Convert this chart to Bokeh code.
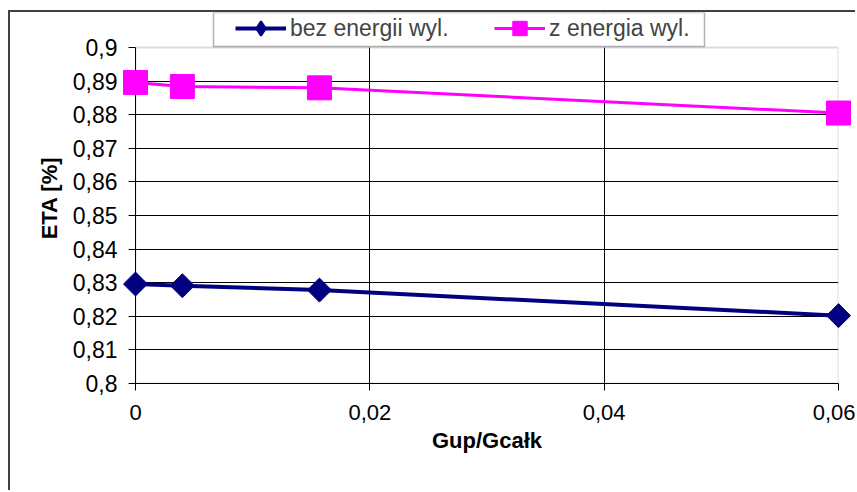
import numpy as np
from bokeh.plotting import figure
from bokeh.models import Range1d, FixedTicker, BoxAnnotation, Legend, LegendItem
from bokeh.embed import file_html
from bokeh.resources import INLINE

# ---- data ----
x_vals = [0.0, 0.004, 0.0157, 0.06]
eta_bez = [0.8296, 0.8291, 0.8278, 0.8202]
eta_z = [0.8896, 0.8884, 0.8880, 0.8805]

series_labels = ["bez energii wyl.", "z energia wyl."]

x_ticks = [0.0, 0.02, 0.04, 0.06]
x_tick_labels = ["0", "0,02", "0,04", "0,06"]
y_ticks = [0.8, 0.81, 0.82, 0.83, 0.84, 0.85, 0.86, 0.87, 0.88, 0.89, 0.9]
y_tick_labels = ["0,8", "0,81", "0,82", "0,83", "0,84", "0,85", "0,86",
                 "0,87", "0,88", "0,89", "0,9"]

x_title = "Gup/Gcałk"
y_title = "ETA [%]"

FONT = "Liberation Sans"

# layout (pixels)
CANVAS_W, CANVAS_H = 847, 480
FRAME_L, FRAME_R, FRAME_B = 125, 19, 109
PLOT_AREA_H = 336          # pixel height of the 0.8..0.9 plot area
frame_h = CANVAS_H - FRAME_B
y0, y1 = y_ticks[0], y_ticks[-1]
y_top = y0 + (y1 - y0) * frame_h / PLOT_AREA_H   # extra room above for legend

p = figure(width=CANVAS_W, height=CANVAS_H, output_backend="svg", toolbar_location=None,
           x_range=Range1d(x_ticks[0], x_ticks[-1]), y_range=Range1d(y0, y_top),
           min_border_left=FRAME_L, min_border_right=FRAME_R,
           min_border_top=0, min_border_bottom=FRAME_B)
p.margin = (10, 0, 0, 8)
p.styles = {"border-left": "2px solid #404040", "border-top": "2px solid #404040"}
p.background_fill_color = "white"
p.border_fill_color = "white"
p.outline_line_color = None

# axes
for ax in (p.xaxis[0], p.yaxis[0]):
    ax.axis_line_color = "black"
    ax.axis_line_width = 1
    ax.major_tick_line_color = "black"
    ax.major_tick_out = 7
    ax.major_tick_in = 0
    ax.minor_tick_out = 0
    ax.minor_tick_in = 0
    ax.major_label_text_font = FONT
    ax.major_label_text_color = "black"
    ax.axis_label_text_font = FONT
    ax.axis_label_text_font_style = "bold"
    ax.axis_label_text_font_size = "22px"
    ax.axis_label_text_color = "black"

p.xaxis.ticker = FixedTicker(ticks=x_ticks)
p.xaxis.major_label_overrides = dict(zip(x_ticks, x_tick_labels))
p.xaxis.major_label_text_font_size = "22px"
p.xaxis.major_label_standoff = 14
p.xaxis.axis_label = x_title
p.xaxis.axis_label_standoff = 5

p.yaxis.ticker = FixedTicker(ticks=y_ticks)
p.yaxis.bounds = (y0, y1)
p.yaxis.major_label_overrides = dict(zip(y_ticks, y_tick_labels))
p.yaxis.major_label_text_font_size = "23px"
p.yaxis.major_label_standoff = 11
p.yaxis.axis_label = y_title
p.yaxis.axis_label_standoff = 8

# grids
p.xgrid.ticker = FixedTicker(ticks=x_ticks[1:-1])
p.ygrid.ticker = FixedTicker(ticks=y_ticks[1:-1])
p.xgrid.grid_line_color = "black"
p.ygrid.grid_line_color = "black"

# white cover above the plot area (hides grid above 0.9)
cover = BoxAnnotation(bottom=y1, fill_color="white", fill_alpha=1,
                      line_alpha=0, level="underlay")
p.add_layout(cover)
# plot area outline (grey)
area = BoxAnnotation(left=x_ticks[0], right=x_ticks[-1], bottom=y0, top=y1,
                     fill_alpha=0, line_color="#8c8c8c", line_width=2,
                     level="underlay")
p.add_layout(area)

NAVY, MAGENTA = "#000080", "#FF00FF"

# series
l1 = p.line(x_vals, eta_bez, line_color=NAVY, line_width=4)
l2 = p.line(x_vals, eta_z, line_color=MAGENTA, line_width=3)
# diamond used for the legend (hidden under the rotated squares in the plot)
s1_leg = p.scatter(x_vals, eta_bez, marker="diamond", size=15,
                   fill_color=NAVY, line_color=NAVY, line_width=2)
s1 = p.scatter(x_vals, eta_bez, marker="square", angle=np.pi / 4, size=17,
               fill_color=NAVY, line_color=NAVY, level="overlay")
s2 = p.scatter(x_vals, eta_z, marker="square", size=24,
               fill_color=MAGENTA, line_color=MAGENTA, level="overlay")

# legend box
legend_box = BoxAnnotation(left=78, right=569, top=frame_h, bottom=frame_h - 34,
                           left_units="screen", right_units="screen",
                           top_units="screen", bottom_units="screen",
                           fill_color="white", fill_alpha=1,
                           line_color="black", line_width=1.5)
p.add_layout(legend_box)

GH = 36
legend = Legend(items=[LegendItem(label=series_labels[0], renderers=[l1, s1_leg]),
                       LegendItem(label=series_labels[1], renderers=[l2, s2])],
                orientation="horizontal", location=(100, frame_h - 16 - GH // 2),
                glyph_width=51, glyph_height=GH, label_standoff=4,
                spacing=39, padding=0, margin=0,
                border_line_alpha=0, background_fill_alpha=0,
                label_text_font=FONT, label_text_font_size="23px",
                label_width=165, label_height=GH)
p.add_layout(legend)

open("out.html", "w").write(file_html(p, INLINE))
